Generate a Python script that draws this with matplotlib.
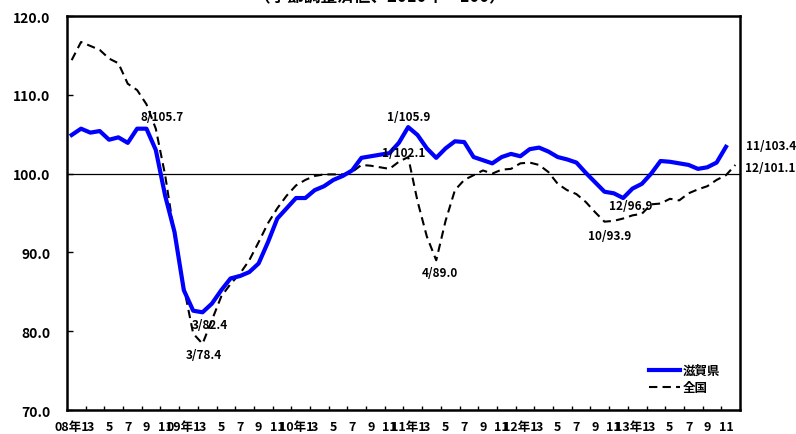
import matplotlib
matplotlib.use("Agg")
import matplotlib.pyplot as plt
import numpy as np

plt.rcParams["font.family"] = ["Noto Sans CJK JP", "DejaVu Sans"]

# 2008/1 .. 2013/11 (滋賀県), 2008/1 .. 2013/12 (全国)
shiga = [104.9, 105.7, 105.2, 105.4, 104.3, 104.6, 103.9, 105.7, 105.7, 103.0,
         97.2, 92.6, 85.2, 82.6, 82.4, 83.5, 85.2, 86.7, 87.0, 87.5,
         88.6, 91.3, 94.3, 95.6, 96.9, 96.9, 97.9, 98.4, 99.2, 99.7,
         100.4, 102.0, 102.2, 102.4, 102.6, 103.9, 105.9, 104.9, 103.2, 102.0,
         103.2, 104.1, 104.0, 102.1, 101.7, 101.3, 102.1, 102.5, 102.2, 103.1,
         103.3, 102.8, 102.1, 101.8, 101.4, 100.1, 98.9, 97.7, 97.5, 96.9,
         98.1, 98.7, 100.0, 101.6, 101.5, 101.3, 101.1, 100.6, 100.8, 101.4,
         103.4]
zenkoku = [114.4, 116.7, 116.2, 115.7, 114.6, 114.0, 111.4, 110.6, 108.8, 105.7,
           99.8, 92.2, 85.6, 79.7, 78.4, 81.4, 84.4, 86.0, 87.3, 89.0,
           91.3, 93.7, 95.6, 97.2, 98.5, 99.2, 99.7, 99.9, 99.9, 99.9,
           100.2, 101.1, 101.0, 100.8, 100.6, 101.5, 102.1, 96.5, 92.0, 89.0,
           94.0, 97.9, 99.2, 99.8, 100.4, 100.0, 100.5, 100.6, 101.3, 101.4,
           101.1, 100.2, 98.7, 97.9, 97.4, 96.4, 95.1, 93.9, 94.0, 94.3,
           94.7, 94.9, 96.1, 96.2, 96.8, 96.6, 97.5, 98.0, 98.4, 99.2,
           99.8, 101.1]
years = ["08", "09", "10", "11", "12", "13"]
month_labels = ["1", "3", "5", "7", "9", "11"]
tick_labels = [(f"{y}年{m}" if m == "1" else m) for y in years for m in month_labels]

# (text, x index, y value) for point labels
notes = [("8/105.7", 7.41, 107.2), ("3/82.4", 12.87, 80.8), ("3/78.4", 12.23, 77.0),
         ("1/105.9", 33.7, 107.3), ("1/102.1", 33.2, 102.7), ("4/89.0", 37.4, 87.4),
         ("12/96.9", 57.5, 96.0), ("10/93.9", 55.2, 92.2),
         ("11/103.4", 72.1, 103.6), ("12/101.1", 72.0, 100.8)]

fig = plt.figure(figsize=(7.96, 4.35), dpi=100)
ax = fig.add_axes([67 / 796, 1 - 411 / 435, 673 / 796, 394 / 435])

ax.plot(np.arange(len(shiga)), shiga, color="#0000ff", lw=3.0, label="滋賀県",
        solid_joinstyle="round", zorder=3)
ax.plot(np.arange(len(zenkoku)), zenkoku, color="black", lw=1.5, ls=(0, (4, 2.5)),
        label="全国", zorder=2)
ax.axhline(100, color="black", lw=0.9, zorder=1)

ax.set_xlim(-0.5, 71.5)
ax.set_ylim(70, 120)
ax.set_yticks(np.arange(70, 121, 10))
ax.set_yticklabels([f"{v:.1f}" for v in np.arange(70, 121, 10)],
                   fontsize=10, fontweight="bold")
ax.set_xticks(np.arange(0, 72, 2))
ax.set_xticklabels(tick_labels, fontsize=9, fontweight="bold")
ax.set_xticks(np.arange(1.5, 71, 2), minor=True)
ax.tick_params(axis="x", which="major", length=0, pad=7)
ax.tick_params(axis="x", which="minor", direction="in", length=3, width=1)
ax.tick_params(axis="y", direction="in", length=4, width=1, pad=12)
for s in ax.spines.values():
    s.set_linewidth(1.8)

for txt, x, y in notes:
    ax.text(x, y, txt, ha="left", va="center", fontsize=8.5, fontweight="bold",
            clip_on=False, zorder=4)

ax.legend(loc="upper left", bbox_to_anchor=(0.848, 0.145), frameon=False,
          handlelength=2.5, handletextpad=0.2, labelspacing=0.35,
          prop={"size": 9, "weight": "bold"})

fig.text(0.477, 0.985, "（季節調整済値、2010年＝100）", ha="center", va="bottom",
         fontsize=12, fontweight="bold")

fig.savefig("out.png", dpi=100)
